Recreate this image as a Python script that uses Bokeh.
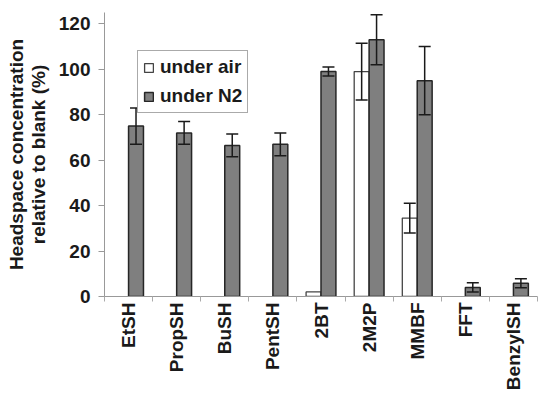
import numpy as np
from bokeh.plotting import figure
from bokeh.models import (ColumnDataSource, FixedTicker, Whisker, TeeHead, Legend,
                          LegendItem, Range1d)
from bokeh.embed import file_html
from bokeh.resources import INLINE

categories = ["EtSH", "PropSH", "BuSH", "PentSH", "2BT", "2M2P", "MMBF", "FFT", "BenzylSH"]
air_values = [0, 0, 0, 0, 2, 99, 34.5, 0, 0]
air_errors = [0, 0, 0, 0, 0, 12.5, 6.5, 0, 0]
n2_values = [75, 72, 66.5, 67, 99, 113, 95, 4, 5.8]
n2_errors = [8, 5, 5, 5, 2, 11, 15, 2, 2]
y_ticks = [0, 20, 40, 60, 80, 100, 120]

FONT = "Liberation Sans"
n = len(categories)
centers = np.arange(n) + 0.5
bw = 0.31

p = figure(width=538, height=399, output_backend="svg", toolbar_location=None,
           x_range=Range1d(0, n), y_range=Range1d(0, 125),
           min_border_left=104, min_border_right=1, min_border_top=12,
           min_border_bottom=103)
p.outline_line_color = None
p.xgrid.grid_line_color = None
p.ygrid.grid_line_color = None
p.background_fill_color = "white"
p.border_fill_color = "white"

air_mask = np.array(air_values) > 0
air_src = ColumnDataSource(dict(x=(centers - bw / 2)[air_mask],
                                top=np.array(air_values)[air_mask]))
n2_src = ColumnDataSource(dict(x=centers + bw / 2, top=n2_values))

r_air = p.vbar(x="x", top="top", width=bw, source=air_src, fill_color="white",
               line_color="#444444", line_width=1.3)
r_n2 = p.vbar(x="x", top="top", width=bw, source=n2_src, fill_color="#7f7f7f",
              line_color="#262626", line_width=1.5)

# error bars
ae = np.array(air_errors); av = np.array(air_values)
emask = ae > 0
err_air = ColumnDataSource(dict(x=(centers - bw / 2)[emask], lo=(av - ae)[emask], hi=(av + ae)[emask]))
ne = np.array(n2_errors); nv = np.array(n2_values)
err_n2 = ColumnDataSource(dict(x=centers + bw / 2, lo=nv - ne, hi=nv + ne))
for src in (err_air, err_n2):
    w = Whisker(base="x", lower="lo", upper="hi", source=src, level="overlay",
                line_color="#1a1a1a", line_width=1.5,
                upper_head=TeeHead(size=12, line_color="#1a1a1a", line_width=1.5),
                lower_head=TeeHead(size=12, line_color="#1a1a1a", line_width=1.5))
    p.add_layout(w)

# axes
p.xaxis.ticker = FixedTicker(ticks=list(centers), minor_ticks=list(np.arange(n + 1)))
p.xaxis.major_label_overrides = {float(c): cat for c, cat in zip(centers, categories)}
p.xaxis.major_label_orientation = np.pi / 2
p.xaxis.major_tick_line_color = None
p.xaxis.major_tick_out = 4
p.xaxis.major_tick_in = 0
p.xaxis.minor_tick_out = 5
p.xaxis.minor_tick_in = 0
p.xaxis.minor_tick_line_color = "#aaaaaa"
p.xaxis.axis_line_color = "#999999"
p.xaxis.major_label_standoff = 1

p.yaxis.ticker = FixedTicker(ticks=y_ticks, minor_ticks=[])
p.yaxis.major_tick_out = 6
p.yaxis.major_tick_in = 0
p.yaxis.major_tick_line_color = "#999999"
p.yaxis.axis_line_color = "#999999"
p.yaxis.major_label_standoff = 8
p.yaxis.axis_label = "Headspace concentration\nrelative to blank (%)"
p.yaxis.axis_label_standoff = 7
p.yaxis.axis_label_text_line_height = 1.05

for ax in (p.xaxis, p.yaxis):
    ax.major_label_text_font = FONT
    ax.major_label_text_font_style = "bold"
    ax.major_label_text_font_size = "19px"
    ax.major_label_text_color = "#1a1a1a"
    ax.axis_label_text_font = FONT
    ax.axis_label_text_font_style = "bold"
    ax.axis_label_text_font_size = "19px"
    ax.axis_label_text_color = "#1a1a1a"

legend = Legend(items=[LegendItem(label="under air", renderers=[r_air]),
                       LegendItem(label="under N2", renderers=[r_n2])],
                location=(33, 183), label_text_font=FONT, label_text_font_style="bold",
                label_text_font_size="19px", label_text_color="#1a1a1a",
                glyph_width=11, glyph_height=11, label_standoff=6,
                label_height=22, spacing=7, padding=5, margin=0,
                border_line_color="#555555", border_line_width=1,
                background_fill_alpha=1)
p.add_layout(legend)

open("out.html", "w").write(file_html(p, INLINE))
